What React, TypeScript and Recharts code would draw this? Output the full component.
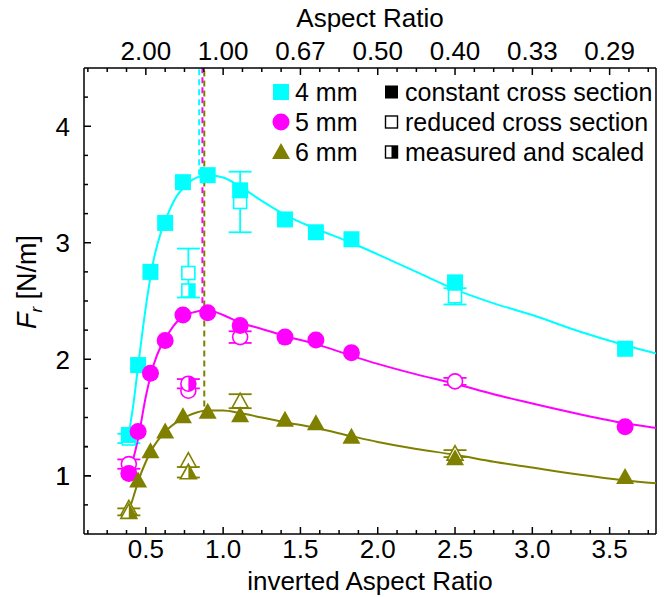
import React from 'react';
import { ScatterChart, Scatter, XAxis, YAxis, ErrorBar, ReferenceLine, Label } from 'recharts';

const CYAN = '#00FFFF';
const MAGENTA = '#FF00FF';
const OLIVE = '#808000';
const FONT = '"Liberation Sans", Arial, Helvetica, sans-serif';

// inverted aspect ratio of the specimens (constant cross section)
const invAR = [0.39, 0.45, 0.53, 0.625, 0.74, 0.9, 1.11, 1.4, 1.6, 1.83, 2.5, 3.6];
const const4mm = [1.35, 1.95, 2.75, 3.17, 3.52, 3.58, 3.45, 3.2, 3.09, 3.03, 2.66, 2.09];
const const5mm = [1.02, 1.38, 1.88, 2.16, 2.38, 2.4, 2.29, 2.19, 2.165, 2.056, null, 1.42];
const const6mm = [null, 0.96, 1.21, 1.38, 1.51, 1.55, 1.52, 1.48, 1.45, 1.335, 1.15, 0.99];

// reduced cross section
const redX = [0.39, 0.775, 1.11, 2.5];
const red4mm = [1.32, 2.74, 3.35, 2.54];
const red4mmErr = [0.04, 0.21, 0.26, 0.07];
const red5mm = [1.1, 1.73, 2.19, 1.81];
const red5mmErr = [0.04, 0, 0.05, 0.03];
const red6mm = [0.72, 1.13, 1.64, 1.19];
const red6mmErr = [0, 0, 0.06, 0.03];

// measured and scaled
const scaledX = [0.39, 0.775];
const scaled4mm = [null, 2.59];
const scaled4mmErr = [0, 0];
const scaled5mm = [null, 1.79];
const scaled5mmErr = [0, 0.04];
const scaled6mm = [0.69, 1.03];
const scaled6mmErr = [0.03, 0.045];

// fitted curves
const fitX = [0.38, 0.42, 0.45, 0.5, 0.55, 0.6, 0.65, 0.7, 0.75, 0.8, 0.9, 1.0, 1.1, 1.25, 1.4, 1.6, 1.83, 2.0, 2.25, 2.5, 2.75, 3.0, 3.3, 3.6, 3.8];
const fit4mm = [1.28, 1.62, 1.94, 2.45, 2.85, 3.1, 3.27, 3.4, 3.48, 3.54, 3.58, 3.56, 3.49, 3.36, 3.24, 3.12, 3.0, 2.9, 2.75, 2.6, 2.48, 2.38, 2.24, 2.12, 2.05];
const fit5mm = [0.98, 1.15, 1.32, 1.68, 1.95, 2.12, 2.23, 2.32, 2.37, 2.4, 2.42, 2.38, 2.32, 2.26, 2.2, 2.13, 2.03, 1.96, 1.87, 1.79, 1.7, 1.62, 1.53, 1.45, 1.41];
const fit6mm = [0.66, 0.82, 0.95, 1.12, 1.25, 1.34, 1.41, 1.46, 1.5, 1.53, 1.56, 1.56, 1.54, 1.5, 1.46, 1.41, 1.34, 1.29, 1.23, 1.18, 1.12, 1.07, 1.01, 0.96, 0.935];

// maxima of the fits (dashed markers)
const peakX = [0.845, 0.866, 0.878];
const peakY = [3.58, 2.42, 1.56];

const xMajor = [0.5, 1, 1.5, 2, 2.5, 3, 3.5];
const xLabels = ['0.5', '1.0', '1.5', '2.0', '2.5', '3.0', '3.5'];
const topLabels = ['2.00', '1.00', '0.67', '0.50', '0.40', '0.33', '0.29'];
const yMajor = [1, 2, 3, 4];
const yLabels = ['1', '2', '3', '4'];

const xTicks = [0, ...xMajor].flatMap((m) => [m, m + 0.125, m + 0.25, m + 0.375]).filter((v) => v > 0.1 && v < 3.8);
const yTicks = [0.5, ...yMajor].flatMap((m) => [m, m + 0.25, m + 0.5, m + 0.75]).filter((v) => v > 0.5 && v < 4.5);

const pts = (xs: number[], ys: (number | null)[], errs?: number[]) =>
  xs.map((x, i) => ({ x, y: ys[i], err: errs ? errs[i] : 0 })).filter((p) => p.y != null);

type Kind = 'square' | 'circle' | 'triangle';
type FillKind = 'full' | 'open' | 'half';

function Marker({ cx, cy, kind, color, fill }: { cx: number; cy: number; kind: Kind; color: string; fill: FillKind }) {
  if (cx == null || cy == null) return <g />;
  if (kind === 'square') {
    if (fill === 'full') return <rect x={cx - 8} y={cy - 8} width={16} height={16} fill={color} />;
    return (
      <g>
        <rect x={cx - 6.5} y={cy - 6.5} width={13} height={13} fill="#fff" stroke={color} strokeWidth={1.6} />
        {fill === 'half' && <rect x={cx} y={cy - 6.5} width={6.5} height={13} fill={color} />}
      </g>
    );
  }
  if (kind === 'circle') {
    if (fill === 'full') return <circle cx={cx} cy={cy} r={8.5} fill={color} />;
    return (
      <g>
        <circle cx={cx} cy={cy} r={7.5} fill="#fff" stroke={color} strokeWidth={1.6} />
        {fill === 'half' && <path d={`M${cx},${cy - 7.5} A7.5,7.5 0 0 1 ${cx},${cy + 7.5} Z`} fill={color} />}
      </g>
    );
  }
  if (fill === 'full')
    return <polygon points={`${cx},${cy - 9} ${cx - 9},${cy + 7} ${cx + 9},${cy + 7}`} fill={color} />;
  return (
    <g>
      <polygon points={`${cx},${cy - 8} ${cx - 8},${cy + 6.5} ${cx + 8},${cy + 6.5}`} fill="#fff" stroke={color} strokeWidth={1.6} />
      {fill === 'half' && <polygon points={`${cx},${cy - 8} ${cx + 8},${cy + 6.5} ${cx},${cy + 6.5}`} fill={color} />}
    </g>
  );
}

const shapeOf = (kind: Kind, color: string, fill: FillKind) => (p: any) =>
  <Marker cx={p.cx} cy={p.cy} kind={kind} color={color} fill={fill} />;

const BottomTick = (props: any) => {
  const { x, y, payload } = props;
  const i = xMajor.indexOf(payload.value);
  return (
    <g>
      <line x1={x} x2={x} y1={y} y2={y - (i >= 0 ? 7 : 4)} stroke="#000" strokeWidth={1.5} />
      {i >= 0 && (
        <text x={x} y={y + 24} textAnchor="middle" fontSize={26} fontFamily={FONT} fill="#000">
          {xLabels[i]}
        </text>
      )}
    </g>
  );
};

const TopTick = (props: any) => {
  const { x, y, payload } = props;
  const i = xMajor.indexOf(payload.value);
  return (
    <g>
      <line x1={x} x2={x} y1={y} y2={y + (i >= 0 ? 7 : 4)} stroke="#000" strokeWidth={1.5} />
      {i >= 0 && (
        <text x={x} y={y - 8} textAnchor="middle" fontSize={26} fontFamily={FONT} fill="#000">
          {topLabels[i]}
        </text>
      )}
    </g>
  );
};

const LeftTick = (props: any) => {
  const { x, y, payload } = props;
  const i = yMajor.indexOf(payload.value);
  return (
    <g>
      <line x1={x} x2={x + (i >= 0 ? 7 : 4)} y1={y} y2={y} stroke="#000" strokeWidth={1.5} />
      {i >= 0 && (
        <text x={x - 14} y={y} dy="0.36em" textAnchor="end" fontSize={26} fontFamily={FONT} fill="#000">
          {yLabels[i]}
        </text>
      )}
    </g>
  );
};

const series = [
  { name: '4 mm', color: CYAN, kind: 'square' as Kind, c: const4mm, r: red4mm, rErr: red4mmErr, s: scaled4mm, sErr: scaled4mmErr, fit: fit4mm },
  { name: '5 mm', color: MAGENTA, kind: 'circle' as Kind, c: const5mm, r: red5mm, rErr: red5mmErr, s: scaled5mm, sErr: scaled5mmErr, fit: fit5mm },
  { name: '6 mm', color: OLIVE, kind: 'triangle' as Kind, c: const6mm, r: red6mm, rErr: red6mmErr, s: scaled6mm, sErr: scaled6mmErr, fit: fit6mm },
];

const typeLegend: { label: string; fill: FillKind }[] = [
  { label: 'constant cross section', fill: 'full' },
  { label: 'reduced cross section', fill: 'open' },
  { label: 'measured and scaled', fill: 'half' },
];

function ChartLegend() {
  const rows = [92, 122, 152];
  return (
    <svg width={670} height={597} style={{ position: 'absolute', left: 0, top: 0, pointerEvents: 'none' }}>
      {series.map((s, i) => (
        <g key={s.name}>
          <Marker cx={281} cy={rows[i]} kind={s.kind} color={s.color} fill="full" />
          <text x={295} y={rows[i]} dy="0.36em" fontSize={25} fontFamily={FONT} fill="#000">{s.name}</text>
        </g>
      ))}
      {typeLegend.map((t, i) => (
        <g key={t.label}>
          {t.fill === 'full' ? (
            <rect x={385} y={rows[i] - 6.5} width={13} height={13} fill="#000" />
          ) : (
            <g>
              <rect x={385.5} y={rows[i] - 6} width={12} height={12} fill="#fff" stroke="#000" strokeWidth={1.4} />
              {t.fill === 'half' && <rect x={391.5} y={rows[i] - 6} width={6} height={12} fill="#000" />}
            </g>
          )}
          <text x={405} y={rows[i]} dy="0.36em" fontSize={25} fontFamily={FONT} fill="#000">{t.label}</text>
        </g>
      ))}
    </svg>
  );
}

export default function App() {
  return (
    <div style={{ position: 'absolute', left: 0, top: 0, width: 670, height: 597, background: '#fff', fontFamily: FONT }}>
      <ScatterChart width={670} height={597} margin={{ top: 0, right: 14, bottom: 0, left: 0 }}>
        <XAxis
          xAxisId="bottom"
          type="number"
          dataKey="x"
          domain={[0.1, 3.8]}
          allowDataOverflow
          ticks={xTicks}
          interval={0}
          height={63}
          tickSize={0}
          tickMargin={0}
          tickLine={false}
          tick={<BottomTick />}
          axisLine={{ stroke: '#000', strokeWidth: 1.5 }}
        >
          <Label
            content={() => (
              <text x={370} y={590} textAnchor="middle" fontSize={26} fontFamily={FONT} fill="#000">
                inverted Aspect Ratio
              </text>
            )}
          />
        </XAxis>
        <XAxis
          xAxisId="top"
          orientation="top"
          type="number"
          dataKey="x"
          domain={[0.1, 3.8]}
          allowDataOverflow
          ticks={xTicks}
          interval={0}
          height={68}
          tickSize={0}
          tickMargin={0}
          tickLine={false}
          tick={<TopTick />}
          axisLine={{ stroke: '#000', strokeWidth: 1.5 }}
        >
          <Label
            content={() => (
              <text x={370} y={27} textAnchor="middle" fontSize={26} fontFamily={FONT} fill="#000">
                Aspect Ratio
              </text>
            )}
          />
        </XAxis>
        <YAxis
          type="number"
          dataKey="y"
          domain={[0.5, 4.5]}
          allowDataOverflow
          ticks={yTicks}
          interval={0}
          width={84}
          tickSize={0}
          tickMargin={0}
          tickLine={false}
          tick={<LeftTick />}
          axisLine={{ stroke: '#000', strokeWidth: 1.5 }}
        >
          <Label
            content={() => (
              <text x={36} y={282} transform="rotate(-90 36 282)" textAnchor="middle" fontSize={27} fontFamily={FONT} fill="#000">
                <tspan fontStyle="italic">F</tspan>
                <tspan fontStyle="italic" fontSize={17} dy={6}>r</tspan>
                <tspan dy={-6}> [N/m]</tspan>
              </text>
            )}
          />
        </YAxis>

        <ReferenceLine xAxisId="bottom" x={3.8} stroke="#000" strokeWidth={1.5} />

        {series.map((s, i) => (
          <Scatter
            key={'fit' + s.name}
            xAxisId={i === 2 ? 'top' : 'bottom'}
            data={pts(fitX, s.fit)}
            line={{ stroke: s.color, strokeWidth: 2 }}
            lineJointType="monotoneX"
            shape={() => <g />}
            isAnimationActive={false}
          />
        ))}

        {series.map((s, i) => (
          <ReferenceLine
            key={'peak' + s.name}
            xAxisId="bottom"
            segment={[
              { x: peakX[i], y: peakY[i] },
              { x: peakX[i], y: 4.5 },
            ]}
            stroke={s.color}
            strokeWidth={2}
            strokeDasharray="6 4"
            strokeDashoffset={i * 3}
          />
        ))}

        {series.map((s) => (
          <Scatter
            key={'red' + s.name}
            xAxisId="bottom"
            data={pts(redX, s.r, s.rErr)}
            shape={shapeOf(s.kind, s.color, 'open')}
            isAnimationActive={false}
          >
            <ErrorBar dataKey="err" direction="y" width={11.5} stroke={s.color} strokeWidth={1.8} />
          </Scatter>
        ))}

        {series.map((s) => (
          <Scatter
            key={'scaled' + s.name}
            xAxisId="bottom"
            data={pts(scaledX, s.s, s.sErr)}
            shape={shapeOf(s.kind, s.color, 'half')}
            isAnimationActive={false}
          >
            <ErrorBar dataKey="err" direction="y" width={11.5} stroke={s.color} strokeWidth={1.8} />
          </Scatter>
        ))}

        {series.map((s) => (
          <Scatter
            key={'const' + s.name}
            xAxisId="bottom"
            data={pts(invAR, s.c)}
            shape={shapeOf(s.kind, s.color, 'full')}
            isAnimationActive={false}
          />
        ))}
      </ScatterChart>
      <ChartLegend />
    </div>
  );
}
